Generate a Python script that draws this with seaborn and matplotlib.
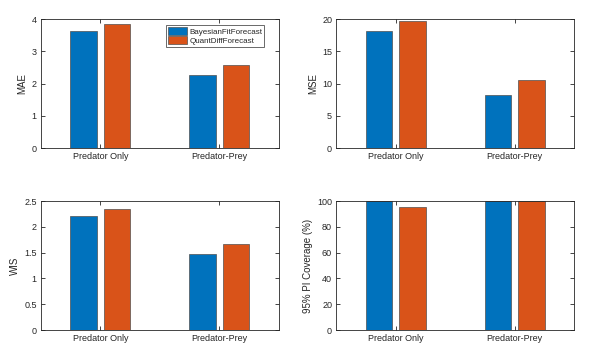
import seaborn as sns
import matplotlib.pyplot as plt
import pandas as pd

scenarios = ['Predator Only', 'Predator-Prey']
methods = ['BayesianFitForecast', 'QuantDiffForecast']

mae_bayes = [3.62, 2.27]
mae_quant = [3.84, 2.58]
mse_bayes = [18.1, 8.2]
mse_quant = [19.8, 10.6]
wis_bayes = [2.22, 1.48]
wis_quant = [2.34, 1.66]
cov_bayes = [100, 100]
cov_quant = [95.5, 100]

colors = ['#0072BD', '#D95319']
grey = '#262626'

sns.set_theme(style='white')
plt.rcParams['font.family'] = ['Liberation Sans', 'DejaVu Sans']
plt.rcParams['font.size'] = 6.5


def make_df(b, q):
    return pd.DataFrame({
        'scenario': scenarios * 2,
        'method': [methods[0]] * 2 + [methods[1]] * 2,
        'value': list(b) + list(q),
    })


panels = [
    (mae_bayes, mae_quant, 'MAE', (0, 4), [0, 1, 2, 3, 4], ['0', '1', '2', '3', '4']),
    (mse_bayes, mse_quant, 'MSE', (0, 20), [0, 5, 10, 15, 20], ['0', '5', '10', '15', '20']),
    (wis_bayes, wis_quant, 'WIS', (0, 2.5), [0, 0.5, 1, 1.5, 2, 2.5], ['0', '0.5', '1', '1.5', '2', '2.5']),
    (cov_bayes, cov_quant, '95% PI Coverage (%)', (0, 100), [0, 20, 40, 60, 80, 100],
     ['0', '20', '40', '60', '80', '100']),
]

fig = plt.figure(figsize=(5.93, 3.56), dpi=100)
positions = [
    [0.069, 0.584, 0.401, 0.362],
    [0.567, 0.584, 0.401, 0.362],
    [0.069, 0.073, 0.401, 0.362],
    [0.567, 0.073, 0.401, 0.362],
]

for i, (b, q, label, ylim, yt, ytl) in enumerate(panels):
    ax = fig.add_axes(positions[i])
    df = make_df(b, q)
    sns.barplot(data=df, x='scenario', y='value', hue='method', palette=colors,
                saturation=1, width=0.56, gap=0.2, edgecolor='#505050', linewidth=0.5,
                legend=(i == 0), ax=ax)
    ax.set_xlim(-0.5, 1.5)
    ax.set_ylim(*ylim)
    ax.set_yticks(yt)
    ax.set_yticklabels(ytl)
    ax.set_xlabel('')
    ax.set_ylabel(label, fontsize=7, color=grey, labelpad=3)
    for s in ax.spines.values():
        s.set_visible(True)
        s.set_color(grey)
        s.set_linewidth(0.6)
    ax.tick_params(direction='in', length=3, width=0.6, colors=grey, pad=3,
                   labelsize=6.5, top=True, right=True, bottom=True, left=True)
    if i == 0:
        leg = ax.legend(loc='upper right', bbox_to_anchor=(0.94, 0.955), borderaxespad=0,
                        fontsize=5.8, frameon=True, fancybox=False,
                        edgecolor=grey, handlelength=2.3, handleheight=1.1,
                        borderpad=0.25, labelspacing=0.1, handletextpad=0.3)
        leg.get_frame().set_linewidth(0.6)

fig.savefig('out.png', dpi=100)
